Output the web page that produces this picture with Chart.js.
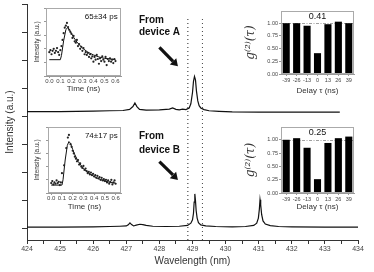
<!DOCTYPE html>
<html><head><meta charset="utf-8">
<script src="https://cdn.jsdelivr.net/npm/chart.js@4/dist/chart.umd.min.js"></script>
<style>
html,body{margin:0;padding:0;background:#fff;}
#wrap{position:relative;width:374px;height:272px;overflow:hidden;background:#fff;}
canvas{position:absolute;display:block;}
</style></head><body>
<div id="wrap">
<canvas id="main" width="374" height="272" style="left:0;top:0;width:374px;height:272px"></canvas>
<canvas id="decA" width="95" height="94" style="left:30px;top:2px;width:95px;height:94px"></canvas>
<canvas id="decB" width="95" height="94" style="left:30px;top:120px;width:95px;height:94px"></canvas>
<canvas id="g2a" width="116" height="96" style="left:244px;top:2px;width:116px;height:96px"></canvas>
<canvas id="g2b" width="116" height="96" style="left:244px;top:120px;width:116px;height:96px"></canvas>
</div>
<script>
// ===== DATA =====
const wavelengthA = [424.0,425.0,426.0,426.5,426.9,427.1,427.2,427.26,427.32,427.4,427.6,428.0,428.3,428.4,428.5,428.6,428.7,428.8,428.9,428.95,429.0,429.03,429.06,429.09,429.12,429.16,429.2,429.25,429.35,429.5,429.8,430.2,431.0,432.0,433.0,433.45];
const intensityA  = [4.17,4.17,4.19,4.20,4.21,4.25,4.35,4.48,4.35,4.25,4.22,4.23,4.26,4.30,4.25,4.23,4.26,4.24,4.30,4.45,4.85,5.25,5.42,5.30,4.90,4.55,4.38,4.30,4.24,4.20,4.18,4.16,4.15,4.15,4.15,4.15];
const wavelengthB = [424.0,425.0,426.0,426.5,426.8,427.0,427.06,427.11,427.16,427.22,427.3,427.41,427.5,427.6,427.8,428.2,428.6,428.85,428.95,429.0,429.03,429.05,429.07,429.09,429.11,429.14,429.18,429.25,429.4,429.7,430.2,430.6,430.85,430.94,430.99,431.02,431.04,431.06,431.09,431.13,431.2,431.35,431.6,432.0,433.0,434.0];
const intensityB  = [0.06,0.06,0.07,0.08,0.09,0.10,0.14,0.21,0.15,0.10,0.13,0.16,0.15,0.12,0.09,0.08,0.09,0.12,0.20,0.32,0.55,0.95,1.24,1.00,0.65,0.38,0.22,0.14,0.10,0.08,0.07,0.08,0.12,0.20,0.38,0.70,1.03,0.85,0.50,0.28,0.17,0.11,0.08,0.07,0.06,0.06];
const markerWavelengths = [428.86, 429.30];
const deviceLabels = ['From device A','From device B'];

const decayTimeA   = [0.00,0.01,0.02,0.03,0.04,0.05,0.06,0.07,0.08,0.09,0.10,0.11,0.12,0.13,0.14,0.15,0.16,0.17,0.18,0.19,0.20,0.21,0.22,0.23,0.24,0.25,0.26,0.27,0.28,0.29,0.30,0.31,0.32,0.33,0.34,0.35,0.36,0.37,0.38,0.39,0.40,0.41,0.42,0.43,0.44,0.45,0.46,0.47,0.48,0.49,0.50,0.51,0.52,0.53,0.54,0.55,0.56,0.57,0.58,0.59,0.60];
const decayCountsA = [0.35,0.38,0.32,0.37,0.40,0.34,0.37,0.41,0.35,0.31,0.38,0.44,0.53,0.63,0.71,0.74,0.78,0.72,0.68,0.65,0.62,0.56,0.59,0.51,0.49,0.53,0.44,0.47,0.40,0.43,0.37,0.41,0.32,0.35,0.31,0.34,0.28,0.32,0.26,0.29,0.21,0.28,0.24,0.31,0.25,0.18,0.26,0.22,0.29,0.24,0.21,0.28,0.16,0.25,0.22,0.26,0.21,0.24,0.19,0.25,0.22];
const decayFitTimeA = [0,0.10,0.11,0.13,0.15,0.165,0.18,0.20,0.22,0.25,0.30,0.35,0.40,0.45,0.50,0.55,0.60];
const decayFitA     = [0.24,0.24,0.30,0.52,0.68,0.71,0.69,0.63,0.57,0.50,0.41,0.35,0.31,0.28,0.26,0.25,0.24];
const decayTimeB   = [0.00,0.01,0.02,0.03,0.04,0.05,0.06,0.07,0.08,0.09,0.10,0.12,0.14,0.155,0.165,0.18,0.19,0.20,0.21,0.22,0.23,0.24,0.25,0.26,0.27,0.28,0.29,0.30,0.31,0.32,0.33,0.34,0.35,0.36,0.37,0.38,0.39,0.40,0.41,0.42,0.43,0.44,0.45,0.46,0.47,0.48,0.49,0.50,0.51,0.52,0.53,0.54,0.55,0.56,0.57,0.58,0.59,0.60];
const decayCountsB = [0.15,0.18,0.13,0.16,0.14,0.19,0.15,0.17,0.12,0.16,0.30,0.42,0.68,0.84,0.88,0.74,0.70,0.64,0.60,0.55,0.52,0.48,0.50,0.43,0.45,0.40,0.38,0.41,0.35,0.37,0.33,0.30,0.32,0.28,0.31,0.27,0.29,0.25,0.27,0.23,0.26,0.22,0.24,0.20,0.23,0.19,0.21,0.18,0.20,0.16,0.19,0.14,0.17,0.20,0.13,0.16,0.19,0.14];
const decayFitTimeB = [0,0.10,0.11,0.13,0.15,0.165,0.18,0.20,0.22,0.25,0.30,0.35,0.40,0.45,0.50,0.55,0.60];
const decayFitB     = [0.12,0.12,0.20,0.50,0.72,0.78,0.75,0.66,0.58,0.48,0.37,0.30,0.25,0.21,0.18,0.16,0.15];
const lifetimeA = '65\u00b134 ps';
const lifetimeB = '74\u00b117 ps';

const delayLabels = ['-39','-26','-13','0','13','26','39'];
const g2A = [1.00,1.00,0.95,0.41,0.98,1.03,1.00];
const g2B = [1.00,1.03,0.85,0.26,0.94,1.03,1.06];
const g2ZeroA = '0.41';
const g2ZeroB = '0.25';

// ===== HELPERS =====
const FONT = "'Liberation Sans', Arial, sans-serif";
const pts = (xs, ys) => xs.map((x, i) => ({x, y: ys[i]}));

// main plugin: arrows + labels
const annotMain = {
  id: 'annotMain',
  afterDatasetsDraw(chart) {
    const {ctx, scales: {x, y}} = chart;
    ctx.save();
    const arrows = [[428.0, 6.46, 428.56, 5.78], [428.0, 2.39, 428.56, 1.74]];
    arrows.forEach(([x0, y0, x1, y1]) => {
      const px0 = x.getPixelForValue(x0), py0 = y.getPixelForValue(y0);
      const px1 = x.getPixelForValue(x1), py1 = y.getPixelForValue(y1);
      const ang = Math.atan2(py1 - py0, px1 - px0);
      const hl = 7, hw = 4.5;
      const bx = px1 - hl * Math.cos(ang), by = py1 - hl * Math.sin(ang);
      ctx.strokeStyle = '#111'; ctx.lineWidth = 3.2;
      ctx.beginPath(); ctx.moveTo(px0, py0); ctx.lineTo(bx, by); ctx.stroke();
      ctx.fillStyle = '#111';
      ctx.beginPath();
      ctx.moveTo(px1, py1);
      ctx.lineTo(bx + hw * Math.sin(ang), by - hw * Math.cos(ang));
      ctx.lineTo(bx - hw * Math.sin(ang), by + hw * Math.cos(ang));
      ctx.closePath(); ctx.fill();
    });
    ctx.font = "bold 10px " + FONT;
    ctx.fillStyle = '#111';
    ctx.textBaseline = 'middle'; ctx.textAlign = 'left';
    const labelPos = [[7.42, 6.99], [3.28, 2.81]];
    deviceLabels.forEach((lab, i) => {
      const parts = lab.split(' ');
      const line1 = parts[0], line2 = parts.slice(1).join(' ');
      const px = x.getPixelForValue(427.38);
      ctx.fillText(line1, px, y.getPixelForValue(labelPos[i][0]));
      ctx.fillText(line2, px, y.getPixelForValue(labelPos[i][1]));
    });
    ctx.restore();
  }
};

new Chart(document.getElementById('main'), {
  type: 'scatter',
  data: {
    datasets: [
      {data: pts(wavelengthA, intensityA), showLine: true, borderColor: '#111', borderWidth: 1.2, pointRadius: 0, tension: 0},
      {data: pts(wavelengthB, intensityB), showLine: true, borderColor: '#111', borderWidth: 1.2, pointRadius: 0, tension: 0},
      {data: [{x: markerWavelengths[0], y: -0.4}, {x: markerWavelengths[0], y: 7.55}], showLine: true, borderColor: '#222', borderWidth: 1, borderDash: [1, 3], pointRadius: 0},
      {data: [{x: markerWavelengths[1], y: -0.4}, {x: markerWavelengths[1], y: 7.55}], showLine: true, borderColor: '#444', borderWidth: 1, borderDash: [1, 3], pointRadius: 0}
    ]
  },
  options: {
    responsive: false, animation: false,
    layout: {padding: {top: 4, right: 16, left: 0, bottom: 0}},
    plugins: {legend: {display: false}, tooltip: {enabled: false}},
    scales: {
      x: {
        type: 'linear', min: 424, max: 434,
        afterFit: s => { s.height = 32; },
        ticks: {stepSize: 0.5, autoSkip: false, maxRotation: 0, padding: 1, color: '#444', font: {size: 7, family: FONT},
          callback: v => Number.isInteger(v) ? String(v) : ''},
        grid: {drawOnChartArea: false, drawTicks: true, tickLength: 4, color: '#333'},
        border: {color: '#333', width: 1},
        title: {display: true, text: 'Wavelength (nm)', color: '#333', font: {size: 10, family: FONT}, padding: {top: 0, bottom: 5}}
      },
      y: {
        min: -0.4, max: 8.0,
        afterFit: s => { s.width = 27; },
        ticks: {stepSize: 1, includeBounds: false, display: false},
        grid: {drawOnChartArea: false, drawTicks: true, tickLength: 5, color: '#333'},
        border: {color: '#333', width: 1},
        title: {display: true, text: 'Intensity (a.u.)', color: '#333', font: {size: 10, family: FONT}, padding: {top: 4, bottom: 0}}
      }
    }
  },
  plugins: [annotMain]
});

// decay insets
function frame(color) {
  return {
    id: 'frame',
    afterDraw(chart) {
      const {ctx, chartArea: a} = chart;
      ctx.save(); ctx.strokeStyle = color; ctx.lineWidth = 1;
      ctx.strokeRect(Math.round(a.left) + 0.5, Math.round(a.top) + 0.5, Math.round(a.right - a.left) - 1, Math.round(a.bottom - a.top) - 1);
      ctx.restore();
    }
  };
}
function textPlugin(text, xv, yv, font, align) {
  return {
    id: 'txt',
    afterDraw(chart) {
      const {ctx, scales: {x, y}} = chart;
      ctx.save(); ctx.font = font; ctx.fillStyle = '#111';
      ctx.textAlign = align; ctx.textBaseline = 'middle';
      ctx.fillText(text, typeof xv === 'number' ? x.getPixelForValue(xv) : (chart.chartArea.left + chart.chartArea.right) / 2, y.getPixelForValue(yv));
      ctx.restore();
    }
  };
}

function decayChart(id, tPts, cPts, tFit, cFit, label, padTop, leftW, xH, titlePadBottom, labelY) {
  new Chart(document.getElementById(id), {
    type: 'scatter',
    data: {datasets: [
      {data: pts(tPts, cPts), pointRadius: 1.1, pointBackgroundColor: '#222', pointBorderWidth: 0, showLine: false},
      {data: pts(tFit, cFit), showLine: true, borderColor: '#111', borderWidth: 1, pointRadius: 0, tension: 0}
    ]},
    options: {
      responsive: false, animation: false,
      layout: {padding: {top: padTop, right: 2, left: 0, bottom: 0}},
      plugins: {legend: {display: false}, tooltip: {enabled: false}},
      scales: {
        x: {type: 'linear', min: -0.03, max: 0.65,
          afterFit: s => { s.height = xH; },
          ticks: {stepSize: 0.1, includeBounds: false, autoSkip: false, maxRotation: 0, padding: 0, color: '#444', font: {size: 6, family: FONT},
            callback: v => v.toFixed(1)},
          grid: {drawOnChartArea: false, tickLength: 2, color: '#999'},
          border: {color: '#999'},
          title: {display: true, text: 'Time (ns)', color: '#333', font: {size: 8, family: FONT}, padding: {top: 0, bottom: titlePadBottom}}
        },
        y: {min: 0, max: 1.0,
          afterFit: s => { s.width = leftW; },
          ticks: {stepSize: 0.2, display: false},
          grid: {drawOnChartArea: false, tickLength: 2, color: '#999'},
          border: {color: '#999'},
          title: {display: true, text: 'Intensity (a.u.)', color: '#333', font: {size: 6.5, family: FONT}, padding: {top: 3, bottom: 0}}
        }
      }
    },
    plugins: [frame('#aaa'), textPlugin(label, 0.62, labelY, "8px " + FONT, 'right')]
  });
}
decayChart('decA', decayTimeA, decayCountsA, decayFitTimeA, decayFitA, lifetimeA, 6, 16, 20, 2, 0.87);
decayChart('decB', decayTimeB, decayCountsB, decayFitTimeB, decayFitB, lifetimeB, 7, 18, 21, 2, 0.86);

// g2 insets
const dashedOne = {
  id: 'dashedOne',
  beforeDatasetsDraw(chart) {
    const {ctx, chartArea: a, scales: {y}} = chart;
    const py = Math.round(y.getPixelForValue(1.0)) + 0.5;
    ctx.save(); ctx.strokeStyle = '#888'; ctx.lineWidth = 0.8; ctx.setLineDash([3, 1.5, 1, 1.5]);
    ctx.beginPath(); ctx.moveTo(a.left, py); ctx.lineTo(a.right, py); ctx.stroke();
    ctx.restore();
  }
};
function g2Chart(id, values, zeroText, padTop, xH, titlePadBottom) {
  new Chart(document.getElementById(id), {
    type: 'bar',
    data: {labels: delayLabels, datasets: [{data: values, backgroundColor: '#000', barPercentage: 0.68, categoryPercentage: 1}]},
    options: {
      responsive: false, animation: false,
      layout: {padding: {top: padTop, right: 6, left: 0, bottom: 0}},
      plugins: {legend: {display: false}, tooltip: {enabled: false}},
      scales: {
        x: {
          afterFit: s => { s.height = xH; },
          ticks: {autoSkip: false, maxRotation: 0, padding: 1, color: '#444', font: {size: 5.5, family: FONT}},
          grid: {drawOnChartArea: false, tickLength: 2, color: '#999', offset: false},
          border: {color: '#999'},
          title: {display: true, text: 'Delay \u03c4 (ns)', color: '#333', font: {size: 8, family: FONT}, padding: {top: 0, bottom: titlePadBottom}}
        },
        y: {min: 0, max: 1.24,
          afterFit: s => { s.width = 37; },
          ticks: {stepSize: 0.25, includeBounds: false, padding: 1, color: '#444', font: {size: 5.5, family: FONT},
            callback: v => v.toFixed(2)},
          grid: {drawOnChartArea: false, tickLength: 2, color: '#999'},
          border: {color: '#999'},
          title: {display: true, text: 'g\u207d\u00b2\u207e(\u03c4)', color: '#333', font: {size: 12, family: "'DejaVu Serif', serif", style: 'italic'}, padding: {top: 0, bottom: 0}}
        }
      }
    },
    plugins: [frame('#aaa'), dashedOne, textPlugin(zeroText, null, 1.14, "9px " + FONT, 'center')]
  });
}
g2Chart('g2a', g2A, g2ZeroA, 9, 24, 2);
g2Chart('g2b', g2B, g2ZeroB, 7, 23, 4);
</script>
</body></html>
